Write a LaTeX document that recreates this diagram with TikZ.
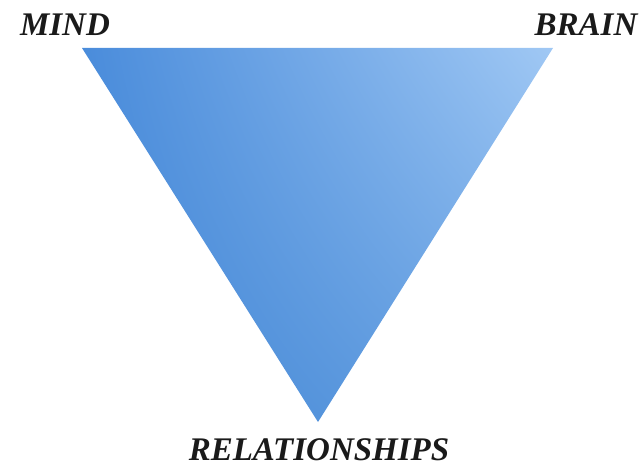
\documentclass[tikz,border=0pt]{standalone}
\usepackage{fontspec}
\setmainfont{Liberation Serif}
\usetikzlibrary{shadings}
\definecolor{ulc}{HTML}{4A8CDB}
\definecolor{urc}{HTML}{A0C8F4}
\definecolor{llc}{HTML}{3F84D4}
\definecolor{lrc}{HTML}{6AA3E3}
\definecolor{txt}{HTML}{1A1A1A}
\begin{document}
\begin{tikzpicture}[x=1pt,y=-1pt,
  lbl/.style={font=\fontsize{33}{37}\selectfont\bfseries\itshape, text=txt, inner sep=0pt, anchor=base}]
\useasboundingbox (0,0) rectangle (641,468);
\coordinate (tl) at (82,48);
\coordinate (tr) at (553,48);
\coordinate (bt) at (318,422);
\shade[upper left=ulc, upper right=urc, lower left=llc, lower right=lrc] (tl) -- (tr) -- (bt) -- cycle;
\node[lbl] (mind) at (65,36) {MIND};
\node[lbl] (brain) at (586,36) {BRAIN};
\node[lbl] (rel) at (319,460) {RELATIONSHIPS};
\end{tikzpicture}
\end{document}
